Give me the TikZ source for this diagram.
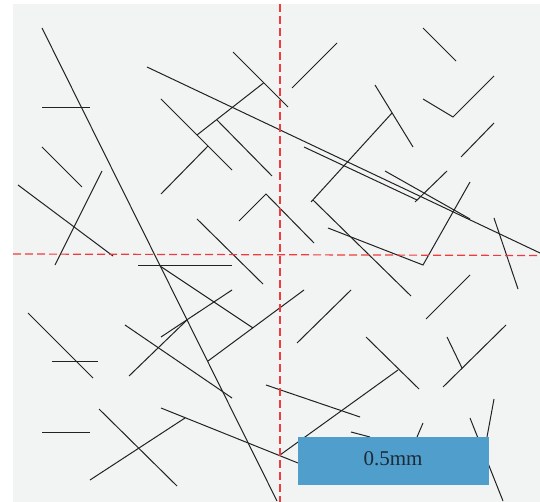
\documentclass[tikz,border=0pt]{standalone}
\usepackage{fontspec}
\setmainfont{Liberation Serif}
\definecolor{bg}{HTML}{F2F3F3}
\definecolor{seg}{HTML}{222222}
\definecolor{guide}{HTML}{EE3B3F}
\definecolor{barblue}{HTML}{4F9ECC}
\definecolor{bartext}{HTML}{1E2A36}
\tikzset{
  fiber/.style={draw=seg, line width=1pt},
  guideline/.style={draw=guide, line width=1.2pt, dash pattern=on 8pt off 4pt},
  scalebox/.style={fill=barblue, draw=none, minimum width=191pt, minimum height=48pt, inner sep=0pt},
  scaletext/.style={text=bartext, font=\fontsize{21}{24}\selectfont, inner sep=0pt}
}
\begin{document}
\begin{tikzpicture}[x=1pt,y=-1pt]
\useasboundingbox (0,0) rectangle (540,502);
\fill[bg] (13,4) rectangle (540,502);
% fibres
\draw[fiber] (42,28) -- (277,501);
\draw[fiber] (42,108) -- (90,108);
\draw[fiber] (42,147) -- (82,187);
\draw[fiber] (18,185) -- (113,256);
\draw[fiber] (102,171) -- (55,265);
\draw[fiber] (147,67) -- (540,253);
\draw[fiber] (161,99) -- (232,170);
\draw[fiber] (161,194) -- (208,146);
\draw[fiber] (233,52) -- (288,107);
\draw[fiber] (292,88) -- (337,43);
\draw[fiber] (197,135) -- (263.5,83);
\draw[fiber] (217,120) -- (272,176);
\draw[fiber] (239,221) -- (266,194) -- (314,243);
\draw[fiber] (197,219) -- (263,284);
\draw[fiber] (304,147) -- (417,200);
\draw[fiber] (385,171) -- (470,219);
\draw[fiber] (311,202) -- (392,113);
\draw[fiber] (375,85) -- (413,147);
\draw[fiber] (313,200) -- (411,296);
\draw[fiber] (328,228) -- (423,265) -- (470,182);
\draw[fiber] (415,202) -- (447,171);
\draw[fiber] (423,28) -- (456,61);
\draw[fiber] (423,99) -- (453,117) -- (494,76);
\draw[fiber] (461,157) -- (494,123);
\draw[fiber] (494,218) -- (518,289);
\draw[fiber] (138,266) -- (232,266);
\draw[fiber] (160,266) -- (253,328);
\draw[fiber] (161,337) -- (232,290);
\draw[fiber] (129,376) -- (187,320);
\draw[fiber] (28,313) -- (93,378);
\draw[fiber] (52,361) -- (98,361);
\draw[fiber] (125,325) -- (232,398);
\draw[fiber] (99,409) -- (177,486);
\draw[fiber] (90,480) -- (185,418);
\draw[fiber] (161,408) -- (298,463);
\draw[fiber] (42,432) -- (90,432);
\draw[fiber] (208,361) -- (304,290);
\draw[fiber] (297,343) -- (351,290);
\draw[fiber] (266,385) -- (360,417);
\draw[fiber] (280,455) -- (398,370);
\draw[fiber] (366,337) -- (419,389);
\draw[fiber] (351,432) -- (370,437);
\draw[fiber] (426,319) -- (470,275);
\draw[fiber] (447,337) -- (462,368);
\draw[fiber] (443,387) -- (506,325);
\draw[fiber] (423,423) -- (417,437);
\draw[fiber] (470,418) -- (503,501);
\draw[fiber] (494,399) -- (487,437);
% guides
\draw[guideline] (280,4) -- (280,502);
\draw[guideline] (13,254) -- (540,255.5);
% scale bar
\node[scalebox] (bar) at (393.5,461) {};
\node[scaletext] (barlabel) at (393,459) {0.5mm};
\end{tikzpicture}
\end{document}
